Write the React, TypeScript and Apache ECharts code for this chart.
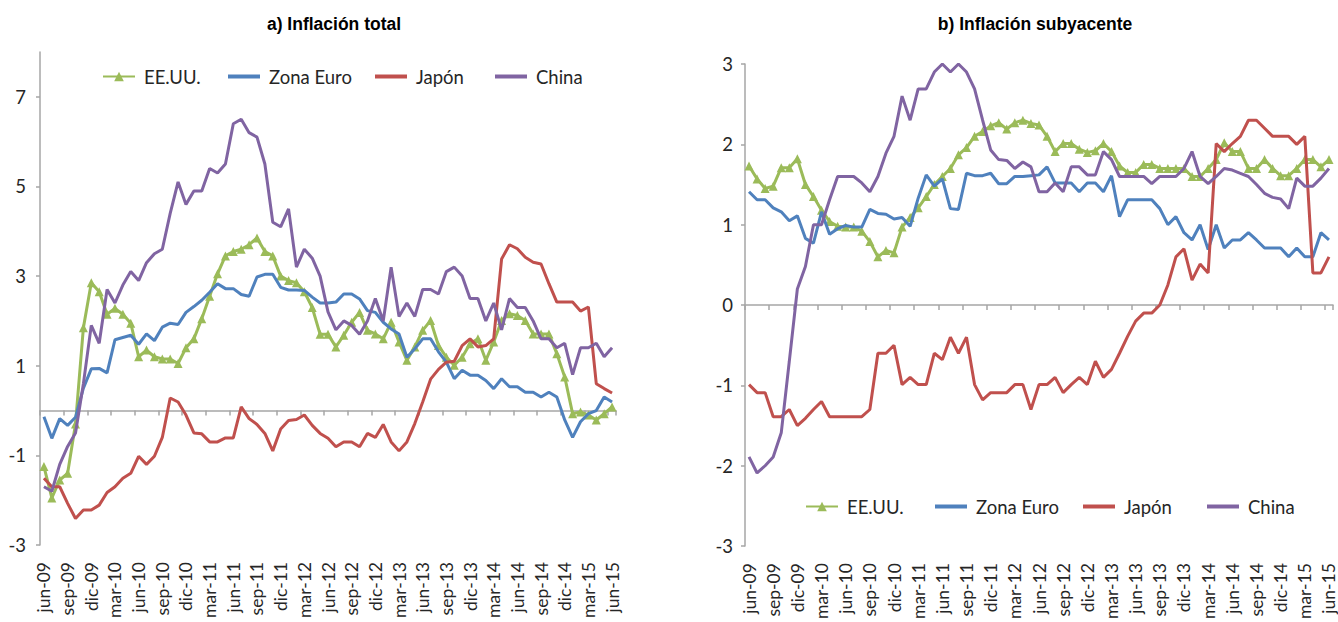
import React, { useEffect, useRef } from "react";
import * as echarts from "echarts";

const MONTHS = ["ene", "feb", "mar", "abr", "may", "jun", "jul", "ago", "sep", "oct", "nov", "dic"];
const categories: string[] = [];
for (let k = 0; k < 73; k++) {
  const m = (5 + k) % 12;
  const y = 9 + Math.floor((5 + k) / 12);
  categories.push(`${MONTHS[m]}-${String(y).padStart(2, "0")}`);
}

const leftTicks = [-3, -1, 1, 3, 5, 7];

// a) Inflación total
const usTotal = [
  -1.25, -1.95, -1.55, -1.4, -0.3, 1.85, 2.85, 2.65, 2.15, 2.28, 2.15, 1.95,
  1.2, 1.35, 1.2, 1.15, 1.15, 1.05, 1.4, 1.6, 2.05, 2.55, 3.05, 3.45,
  3.55, 3.6, 3.7, 3.85, 3.55, 3.45, 3.0, 2.9, 2.85, 2.65, 2.3, 1.7,
  1.7, 1.42, 1.68, 1.97, 2.19, 1.79, 1.71, 1.6, 1.97, 1.53, 1.12, 1.42,
  1.79, 2.01, 1.45, 1.19, 1.01, 1.19, 1.49, 1.6, 1.12, 1.53, 2.01, 2.16,
  2.12, 2.01, 1.71, 1.71, 1.71, 1.27, 0.75, -0.07, -0.03, -0.1, -0.21, -0.07,
  0.08,
];
const euroTotal = [
  -0.14, -0.62, -0.18, -0.33, -0.15, 0.5, 0.93, 0.94, 0.84, 1.58, 1.63, 1.68,
  1.48, 1.71, 1.56, 1.86, 1.95, 1.92, 2.19, 2.32, 2.46, 2.64, 2.83, 2.72,
  2.72, 2.59, 2.55, 2.98, 3.04, 3.04, 2.75, 2.69, 2.69, 2.68, 2.53, 2.4,
  2.4, 2.42, 2.6, 2.6, 2.49, 2.23, 2.19, 1.97, 1.82, 1.71, 1.19, 1.38,
  1.6, 1.6, 1.31, 1.08, 0.71, 0.9, 0.79, 0.79, 0.67, 0.49, 0.71, 0.53,
  0.53, 0.41, 0.41, 0.3, 0.41, 0.3, -0.21, -0.6, -0.25, -0.07, 0.0, 0.3,
  0.19,
];
const japanTotal = [
  -1.51, -1.7, -1.7, -2.07, -2.41, -2.22, -2.22, -2.11, -1.83, -1.7, -1.51, -1.4,
  -1.02, -1.2, -1.02, -0.6, 0.28, 0.19, -0.1, -0.5, -0.52, -0.7, -0.7, -0.61,
  -0.61, 0.08, -0.18, -0.31, -0.51, -0.9, -0.41, -0.22, -0.2, -0.1, -0.33, -0.51,
  -0.62, -0.81, -0.7, -0.7, -0.81, -0.51, -0.6, -0.31, -0.7, -0.9, -0.7, -0.29,
  0.19, 0.7, 0.92, 1.08, 1.1, 1.45, 1.6, 1.42, 1.45, 1.6, 3.38, 3.7,
  3.61, 3.42, 3.31, 3.27, 2.83, 2.42, 2.42, 2.42, 2.22, 2.31, 0.6, 0.49,
  0.39,
];
const chinaTotal = [
  -1.7, -1.8, -1.2, -0.8, -0.5, 0.6, 1.9, 1.5, 2.7, 2.4, 2.8, 3.1,
  2.9, 3.3, 3.5, 3.6, 4.4, 5.1, 4.6, 4.9, 4.9, 5.4, 5.3, 5.5,
  6.4, 6.5, 6.2, 6.1, 5.5, 4.2, 4.1, 4.5, 3.2, 3.6, 3.4, 3.0,
  2.2, 1.8, 2.0, 1.9, 1.7, 2.0, 2.5, 2.0, 3.2, 2.1, 2.4, 2.1,
  2.7, 2.7, 2.6, 3.1, 3.2, 3.0, 2.5, 2.5, 2.0, 2.4, 1.8, 2.5,
  2.3, 2.3, 2.0, 1.6, 1.6, 1.4, 1.5, 0.8, 1.4, 1.4, 1.5, 1.2,
  1.4,
];

// b) Inflación subyacente
const usCore = [
  1.73, 1.57, 1.45, 1.48, 1.71, 1.71, 1.82, 1.5, 1.35, 1.18, 1.04, 0.98,
  0.97, 0.97, 0.92, 0.79, 0.6, 0.68, 0.65, 0.97, 1.09, 1.21, 1.35, 1.5,
  1.6, 1.7, 1.87, 1.96, 2.1, 2.16, 2.23, 2.27, 2.19, 2.27, 2.3, 2.26,
  2.24, 2.1, 1.91, 2.01, 2.01, 1.94, 1.9, 1.92, 2.01, 1.91, 1.73, 1.65,
  1.65, 1.75, 1.75, 1.7, 1.7, 1.7, 1.7, 1.6, 1.6, 1.7, 1.81, 2.02,
  1.91, 1.91, 1.7, 1.7, 1.81, 1.7, 1.61, 1.61, 1.7, 1.81, 1.81, 1.72,
  1.81,
];
const euroCore = [
  1.41, 1.31, 1.31, 1.21, 1.16, 1.05, 1.11, 0.83, 0.77, 1.16, 0.88, 0.95,
  0.99, 0.97, 0.97, 1.19, 1.14, 1.13, 1.07, 1.09, 0.98, 1.33, 1.62, 1.48,
  1.57, 1.2, 1.19, 1.64, 1.61, 1.61, 1.64, 1.51, 1.51, 1.6, 1.6, 1.61,
  1.62, 1.72, 1.52, 1.52, 1.52, 1.41, 1.52, 1.52, 1.41, 1.61, 1.1, 1.31,
  1.31, 1.31, 1.31, 1.2, 1.0, 1.1, 0.9, 0.81, 1.0, 0.69, 1.0, 0.71,
  0.81, 0.81, 0.9, 0.81, 0.71, 0.71, 0.71, 0.6, 0.71, 0.6, 0.6, 0.9,
  0.81,
];
const japanCore = [
  -0.99, -1.09, -1.09, -1.39, -1.39, -1.3, -1.5, -1.41, -1.3, -1.2, -1.39, -1.39,
  -1.39, -1.39, -1.39, -1.3, -0.6, -0.6, -0.5, -0.99, -0.9, -0.99, -0.99, -0.6,
  -0.68, -0.4, -0.6, -0.4, -0.99, -1.18, -1.09, -1.09, -1.09, -0.99, -0.99, -1.3,
  -0.99, -0.99, -0.9, -1.09, -0.99, -0.9, -0.99, -0.7, -0.9, -0.8, -0.6, -0.39,
  -0.2, -0.1, -0.1, 0.0, 0.25, 0.6, 0.7, 0.31, 0.51, 0.4, 2.01, 1.91,
  2.01, 2.1, 2.3, 2.3, 2.2, 2.1, 2.1, 2.1, 2.0, 2.1, 0.4, 0.4,
  0.6,
];
const chinaCore = [
  -1.89, -2.09, -2.0, -1.89, -1.59, -0.7, 0.2, 0.48, 1.0, 1.0, 1.31, 1.6,
  1.6, 1.6, 1.52, 1.41, 1.6, 1.89, 2.1, 2.6, 2.3, 2.69, 2.69, 2.9,
  3.0, 2.9, 3.0, 2.9, 2.69, 2.3, 1.93, 1.81, 1.8, 1.7, 1.78, 1.72,
  1.41, 1.41, 1.52, 1.41, 1.72, 1.72, 1.62, 1.62, 1.91, 1.81, 1.6, 1.6,
  1.6, 1.6, 1.51, 1.6, 1.6, 1.6, 1.7, 1.91, 1.6, 1.51, 1.6, 1.7,
  1.68, 1.64, 1.6, 1.5, 1.39, 1.34, 1.32, 1.2, 1.58, 1.48, 1.48, 1.58,
  1.7,
];

const NAMES = ["EE.UU.", "Zona Euro", "Japón", "China"];
const COLORS = ["#9BBB59", "#4F81BD", "#C0504D", "#8064A2"];

const FONT = "Lato";
const AXIS_GRAY = "#A6A6A6";
const TEXT = "#262626";

export default function App() {
  const ref = useRef<HTMLDivElement>(null);

  useEffect(() => {
    if (!ref.current) return;
    const chart = echarts.init(ref.current, undefined, { renderer: "svg" });

    const labelX = {
      interval: 2,
      rotate: 90,
      margin: 17,
      fontSize: 17.5,
      fontFamily: FONT,
      color: TEXT,
    };

    const makeXAxes = (gi: number) => [
      {
        gridIndex: gi,
        type: "category",
        data: categories,
        boundaryGap: true,
        position: "bottom",
        axisLine: { show: false, onZero: false },
        axisTick: { show: false },
        axisLabel: labelX,
        splitLine: { show: false },
      },
      {
        gridIndex: gi,
        type: "category",
        data: categories,
        boundaryGap: true,
        position: "bottom",
        axisLine: { show: true, onZero: true, lineStyle: { color: AXIS_GRAY, width: 1.5 } },
        axisTick: { show: true, interval: 2, length: 5, lineStyle: { color: AXIS_GRAY, width: 1.5 } },
        axisLabel: { show: false },
        splitLine: { show: false },
      },
    ];

    const panels = [
      [usTotal, euroTotal, japanTotal, chinaTotal],
      [usCore, euroCore, japanCore, chinaCore],
    ];

    const series: any[] = [];
    panels.forEach((sets, gi) => {
      sets.forEach((data, si) => {
        series.push({
          name: NAMES[si],
          type: "line",
          xAxisIndex: gi * 2,
          yAxisIndex: gi,
          data,
          symbol: si === 0 ? "triangle" : "none",
          symbolSize: 9,
          showSymbol: si === 0,
          showAllSymbol: true,
          lineStyle: { color: COLORS[si], width: 3 },
          itemStyle: { color: COLORS[si] },
          emphasis: { disabled: true },
          z: 2 + si,
        });
      });
    });

    const legendLeft = [
      [102, 228, 375, 495],
      [805, 935, 1083, 1207],
    ];
    const legendTop = [67, 497];
    const legends: any[] = [];
    legendLeft.forEach((xs, gi) => {
      xs.forEach((x, si) => {
        const base: any = {
          data: [NAMES[si]],
          left: x,
          top: legendTop[gi],
          padding: 0,
          itemWidth: 32,
          itemHeight: 12,
          selectedMode: false,
          textStyle: { fontFamily: FONT, fontSize: 18.5, color: TEXT, padding: [0, 0, 0, 4] },
        };
        if (si > 0) {
          base.icon = "rect";
          base.itemHeight = 4;
          base.itemStyle = { color: COLORS[si] };
          base.top = legendTop[gi] + 0;
        }
        legends.push(base);
      });
    });

    const option: any = {
      animation: false,
      backgroundColor: "#ffffff",
      title: [
        {
          text: "a) Inflación total",
          left: 329,
          top: 10,
          textAlign: "center",
          textStyle: { fontFamily: "Liberation Sans", fontWeight: "bold", fontSize: 17.5, color: "#000" },
        },
        {
          text: "b) Inflación subyacente",
          left: 1030,
          top: 10,
          textAlign: "center",
          textStyle: { fontFamily: "Liberation Sans", fontWeight: "bold", fontSize: 17.5, color: "#000" },
        },
      ],
      legend: legends,
      grid: [
        { left: 40, top: 52, width: 576, height: 493, containLabel: false },
        { left: 745, top: 64, width: 588, height: 483, containLabel: false },
      ],
      xAxis: [...makeXAxes(0), ...makeXAxes(1)],
      yAxis: [
        {
          gridIndex: 0,
          type: "value",
          min: -3,
          max: 8,
          interval: 1,
          axisLine: { show: true, lineStyle: { color: AXIS_GRAY, width: 1.5 } },
          axisTick: { show: true, length: 4, customValues: leftTicks, lineStyle: { color: AXIS_GRAY, width: 1.5 } },
          axisLabel: { customValues: leftTicks, margin: 14, fontSize: 18.5, fontFamily: FONT, color: TEXT },
          splitLine: { show: false },
        },
        {
          gridIndex: 1,
          type: "value",
          min: -3,
          max: 3,
          interval: 1,
          axisLine: { show: true, lineStyle: { color: AXIS_GRAY, width: 1.5 } },
          axisTick: { show: true, length: 4, lineStyle: { color: AXIS_GRAY, width: 1.5 } },
          axisLabel: { margin: 12, fontSize: 18.5, fontFamily: FONT, color: TEXT },
          splitLine: { show: false },
        },
      ],
      series,
    };

    chart.setOption(option);
    return () => chart.dispose();
  }, []);

  return (
    <div
      ref={ref}
      style={{ position: "fixed", left: 0, top: 0, width: 1338, height: 622, background: "#fff" }}
    />
  );
}
